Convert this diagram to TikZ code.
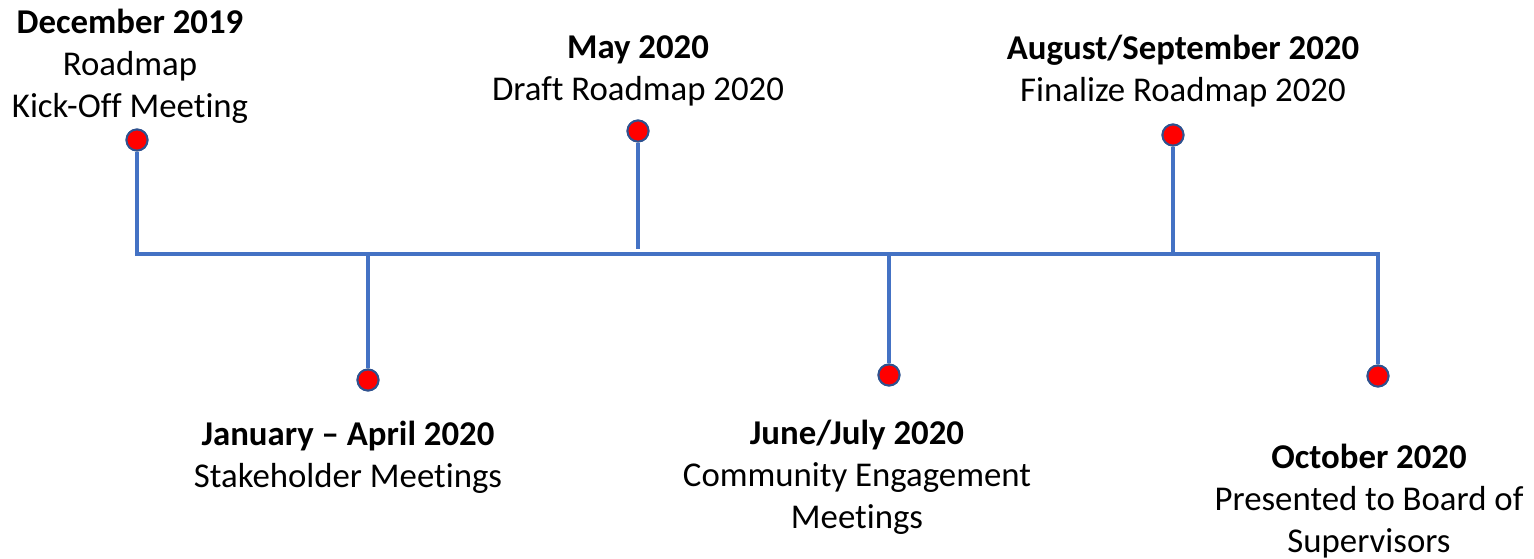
\documentclass[tikz,border=0pt]{standalone}
\usepackage{fontspec}
\setmainfont[Ligatures={TeX,NoCommon}]{Carlito}
\definecolor{LineBlue}{RGB}{68, 114, 196}
\definecolor{RimBlue}{RGB}{47, 82, 143}
\definecolor{DotRed}{RGB}{255, 0, 0}
\usepackage{tikz}
\usetikzlibrary{positioning}
\tikzset{
  axis/.style={line width=2.3pt, color=LineBlue},
  dot/.style={circle, draw=RimBlue, fill=DotRed, line width=1.1pt,
    minimum size=12pt, inner sep=0pt},
  event/.style={align=center, inner sep=0pt,
    font=\fontsize{19.8}{23.8}\selectfont},
}
\newcommand{\when}[1]{\textbf{#1}}

\begin{document}
\begin{tikzpicture}[x=0.02cm, y=-0.02cm]
\useasboundingbox (0,0) rectangle (1534,558);

% junctions on the main line
\coordinate (j1) at (137,254);
\coordinate (j2) at (368,254);
\coordinate (j3) at (638,249);
\coordinate (j4) at (889,254);
\coordinate (j5) at (1173,254);
\coordinate (j6) at (1378,254);

% Timeline
\draw[axis] ([xshift=-1.1pt]j1) -- ([xshift=1.1pt]j6);

% dots
\node[dot] (d1) at (137,140) {};
\node[dot] (d2) at (368,380) {};
\node[dot] (d3) at (638,131) {};
\node[dot] (d4) at (889,375) {};
\node[dot] (d5) at (1173,135) {};
\node[dot] (d6) at (1378,376) {};

\foreach \i in {1,...,6}
  \draw[axis] (d\i) -- (j\i);
\foreach \i in {1,...,6}
  \node[dot] at (d\i) {};

% labels
\node[event] (e1) at (130,66) {\when{December 2019}\\Roadmap\\Kick-Off Meeting};
\node[event] (e2) at (348,457) {\when{January – April 2020}\\Stakeholder Meetings};
\node[event] (e3) at (638,71) {\when{May 2020}\\Draft Roadmap 2020};
\node[event] (e4) at (857,477) {\when{June/July 2020}\\Community Engagement\\Meetings};
\node[event] (e5) at (1183,71) {\when{August/September 2020}\\Finalize Roadmap 2020};
\node[event] (e6) at (1369,501) {\when{October 2020}\\Presented to Board of\\Supervisors};
\end{tikzpicture}
\end{document}
